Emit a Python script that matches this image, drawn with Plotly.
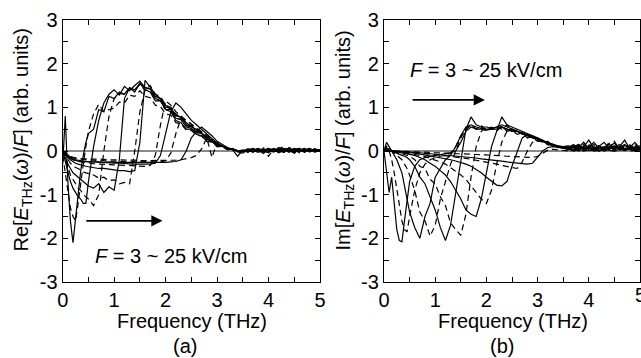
import plotly.graph_objects as go

FONT = "Liberation Sans, Arial, sans-serif"

FREQ = [0.0, 0.05, 0.1, 0.15, 0.2, 0.25, 0.3, 0.35, 0.4, 0.45, 0.5,
        0.6, 0.7, 0.8, 0.9, 1.0, 1.1, 1.2, 1.3, 1.4, 1.5, 1.6, 1.7, 1.8, 1.9, 2.0,
        2.1, 2.2, 2.3, 2.4, 2.5, 2.6, 2.7, 2.8, 2.9, 3.0, 3.1, 3.2, 3.3, 3.4, 3.5,
        3.6, 3.7, 3.8, 3.9, 4.0, 4.1, 4.2, 4.3, 4.4, 4.5, 4.6, 4.7, 4.8, 4.9, 5.0]

FIELDS = [3, 5, 7, 9, 11, 13, 15, 17, 19, 21, 23, 25]

X_TICKS = [0, 1, 2, 3, 4, 5]
X_TICK_TEXT = ["0", "1", "2", "3", "4", "5"]
Y_TICKS = [-3, -2, -1, 0, 1, 2, 3]
Y_TICK_TEXT = ["-3", "-2", "-1", "0", "1", "2", "3"]

# Re[E_THz(w)/F]
re_03 = [-0.3, 0.8, -0.7, -1.6, -2.1, -1.5, -0.9, -0.45, -0.1, 0.2, 0.4,
         0.5, 0.95, 0.9, 1.25, 1.2, 1.35, 1.3, 1.45, 1.35, 1.55, 1.4, 1.35, 1.15, 1.15, 0.95, 0.9, 0.7, 0.65, 0.5, 0.5, 0.38, 0.35, 0.22, 0.22, 0.1, 0.12, 0.03, 0.06, -0.02, -0.05,
         0.03, -0.02, 0.05, 0.0, -0.04, 0.06, 0.02, -0.03, 0.08, 0.0, 0.04, -0.02, 0.03, 0.0, 0.02]
re_05 = [-0.1, -0.5, -1.0, -1.3, -1.5, -1.6, -1.2, -0.7, -0.3, 0.1, 0.45,
         0.85, 1.07, 0.9, 0.95, 0.98, 1.12, 1.1, 1.28, 1.25, 1.38, 1.25, 1.22, 1.05, 1.02, 0.85, 0.82, 0.65, 0.62, 0.48, 0.47, 0.37, 0.34, 0.22, 0.2, 0.1, 0.1, 0.03, 0.04, 0.0, 0.02,
         -0.02, 0.04, -0.05, 0.07, 0.01, -0.02, 0.05, 0.1, 0.0, 0.03, -0.04, 0.05, 0.0, 0.04, -0.02]
re_07 = [0.0, -0.25, -0.5, -0.7, -0.85, -0.95, -1.05, -1.1, -1.2, -1.2, -0.7,
         0.1, 0.7, 1.1, 1.3, 1.4, 1.28, 1.48, 1.38, 1.5, 1.6, 1.45, 1.42, 1.2, 1.15, 0.95, 0.95, 0.75, 0.72, 0.55, 0.52, 0.42, 0.4, 0.27, 0.22, 0.12, 0.12, 0.04, 0.05, 0.0, 0.0,
         0.05, 0.0, 0.02, -0.06, 0.04, 0.0, 0.08, 0.02, -0.03, 0.06, 0.01, 0.0, 0.05, -0.03, 0.03]
re_09 = [0.0, -0.2, -0.4, -0.55, -0.65, -0.75, -0.85, -0.9, -1.0, -1.05, -1.1,
         -1.25, -1.0, 0.0, 0.8, 1.2, 1.32, 1.3, 1.42, 1.4, 1.52, 1.4, 1.38, 1.2, 1.15, 0.95, 0.92, 0.75, 0.72, 0.58, 0.55, 0.42, 0.4, 0.27, 0.24, 0.13, 0.12, 0.05, 0.05, 0.0, 0.02,
         0.0, 0.05, -0.03, 0.02, 0.06, -0.02, 0.03, 0.0, 0.05, -0.05, 0.02, 0.06, -0.01, 0.02, 0.0]
re_11 = [0.0, -0.15, -0.3, -0.4, -0.5, -0.55, -0.6, -0.65, -0.7, -0.75, -0.8,
         -0.85, -0.75, -0.95, -0.82, -0.9, -0.2, 1.2, 1.45, 1.4, 1.55, 1.45, 1.42, 1.25, 1.2, 1.0, 0.98, 0.8, 0.78, 0.6, 0.58, 0.45, 0.42, 0.28, 0.25, 0.14, 0.12, 0.05, 0.05, 0.0, -0.02,
         0.04, 0.0, 0.06, -0.02, 0.03, 0.05, -0.04, 0.02, 0.07, 0.0, 0.03, -0.03, 0.04, 0.01, 0.03]
re_13 = [0.0, -0.1, -0.2, -0.28, -0.33, -0.38, -0.4, -0.45, -0.48, -0.5, -0.52,
         -0.55, -0.62, -0.6, -0.68, -0.66, -0.75, -0.72, -0.75, 0.0, 0.9, 1.4, 1.5, 1.3, 1.25, 1.05, 1.0, 0.82, 0.8, 0.62, 0.58, 0.45, 0.43, 0.28, 0.25, 0.13, 0.12, 0.04, 0.05, 0.0, 0.02,
         0.02, -0.03, 0.04, 0.02, -0.01, 0.05, 0.0, 0.04, -0.02, 0.03, 0.06, 0.0, 0.02, 0.05, -0.01]
re_15 = [0.0, -0.08, -0.15, -0.2, -0.25, -0.28, -0.3, -0.32, -0.33, -0.35, -0.36,
         -0.38, -0.4, -0.4, -0.42, -0.43, -0.45, -0.45, -0.47, -0.45, 0.2, 1.62, 1.45, 1.3, 1.2, 1.05, 0.95, 0.85, 0.75, 0.65, 0.55, 0.5, 0.4, 0.32, 0.25, 0.16, 0.1, 0.06, 0.03, 0.0, 0.0,
         0.03, 0.06, 0.0, -0.02, 0.05, 0.02, -0.03, 0.04, 0.0, 0.05, -0.02, 0.03, 0.06, 0.0, 0.02]
re_17 = [0.0, -0.07, -0.12, -0.16, -0.2, -0.22, -0.24, -0.25, -0.26, -0.27, -0.28,
         -0.29, -0.3, -0.3, -0.31, -0.32, -0.32, -0.33, -0.33, -0.34, -0.35, -0.35, -0.33, -0.1, 0.6, 1.15, 1.05, 0.9, 0.8, 0.7, 0.6, 0.5, 0.42, 0.33, 0.25, 0.17, 0.12, 0.07, 0.03, 0.01, 0.0,
         0.0, 0.03, -0.02, 0.05, 0.0, 0.04, 0.02, -0.03, 0.05, 0.01, 0.0, 0.04, -0.02, 0.03, 0.0]
re_19 = [0.0, -0.05, -0.1, -0.14, -0.18, -0.2, -0.21, -0.22, -0.23, -0.24, -0.25,
         -0.25, -0.26, -0.27, -0.27, -0.28, -0.28, -0.29, -0.29, -0.3, -0.3, -0.3, -0.3, -0.28, -0.1, 0.4, 0.9, 1.1, 1.0, 0.85, 0.7, 0.6, 0.5, 0.38, 0.28, 0.18, 0.12, 0.07, 0.03, -0.12, 0.02,
         -0.03, 0.04, 0.02, 0.0, 0.06, -0.02, 0.03, 0.05, 0.0, -0.04, 0.04, 0.02, 0.0, 0.05, 0.01]
re_21 = [0.0, -0.05, -0.09, -0.12, -0.15, -0.17, -0.18, -0.19, -0.2, -0.2, -0.21,
         -0.21, -0.22, -0.22, -0.23, -0.23, -0.24, -0.24, -0.25, -0.25, -0.25, -0.26, -0.26, -0.25, -0.25, -0.22, -0.05, 0.4, 0.75, 0.7, 0.62, 0.52, 0.45, 0.36, 0.27, 0.18, 0.12, 0.07, 0.03, 0.01, 0.0,
         0.02, 0.0, 0.05, 0.03, -0.12, 0.04, 0.0, 0.06, 0.02, -0.01, 0.03, 0.05, 0.0, 0.02, 0.04]
re_23 = [0.0, -0.06, -0.12, -0.17, -0.2, -0.22, -0.23, -0.24, -0.24, -0.25, -0.25,
         -0.25, -0.25, -0.26, -0.25, -0.26, -0.26, -0.27, -0.26, -0.27, -0.27, -0.27, -0.27, -0.27, -0.26, -0.26, -0.25, -0.24, -0.2, 0.0, 0.3, 0.45, 0.55, 0.45, 0.35, 0.22, 0.15, 0.08, 0.04, 0.01, 0.0,
         0.04, -0.02, 0.03, 0.0, 0.05, 0.02, -0.03, 0.04, 0.0, 0.03, 0.06, -0.02, 0.02, 0.0, 0.03]
re_25 = [0.0, -0.05, -0.1, -0.13, -0.15, -0.16, -0.17, -0.17, -0.18, -0.18, -0.18,
         -0.18, -0.19, -0.19, -0.2, -0.2, -0.2, -0.21, -0.21, -0.21, -0.22, -0.22, -0.22, -0.22, -0.22, -0.22, -0.21, -0.21, -0.2, -0.18, -0.15, -0.1, 0.05, 0.3, -0.15, 0.2, 0.12, 0.07, 0.03, 0.0, 0.0,
         0.0, 0.03, 0.05, -0.02, 0.02, 0.0, 0.04, -0.03, 0.02, 0.05, 0.0, 0.02, -0.02, 0.03, 0.01]

# Im[E_THz(w)/F]
im_03 = [0.0, -0.5, -0.95, -0.6, -1.2, -1.8, -2.05, -2.08, -1.6, -1.1, -0.7,
         -0.35, -0.2, -0.15, -0.12, -0.1, -0.08, -0.06, -0.04, 0.0, 0.2, 0.45, 0.55, 0.5, 0.5, 0.48, 0.5, 0.5, 0.55, 0.5, 0.45, 0.45, 0.4, 0.35, 0.3, 0.28, 0.22, 0.2, 0.15, 0.12, 0.1,
         0.12, 0.08, 0.15, 0.05, 0.1, 0.2, 0.06, 0.1, 0.04, 0.12, 0.08, 0.15, 0.05, 0.1, 0.08]
im_05 = [0.0, 0.1, 0.0, -0.2, -0.5, -0.9, -1.3, -1.6, -1.8, -1.85, -1.5,
         -0.9, -0.5, -0.3, -0.2, -0.15, -0.12, -0.1, -0.05, 0.1, 0.35, 0.5, 0.6, 0.5, 0.55, 0.45, 0.52, 0.48, 0.55, 0.45, 0.48, 0.38, 0.42, 0.3, 0.33, 0.22, 0.25, 0.15, 0.16, 0.08, 0.1,
         0.05, 0.1, 0.02, 0.15, 0.06, 0.0, 0.12, 0.04, 0.18, 0.05, 0.1, 0.02, 0.14, 0.06, 0.03]
im_07 = [0.0, 0.2, 0.1, 0.0, -0.1, -0.2, -0.35, -0.5, -0.8, -1.1, -1.4,
         -1.75, -2.0, -1.5, -1.2, -0.6, -0.4, -0.2, -0.1, 0.1, 0.35, 0.55, 0.6, 0.55, 0.52, 0.5, 0.5, 0.55, 0.55, 0.5, 0.48, 0.45, 0.4, 0.35, 0.32, 0.27, 0.22, 0.18, 0.15, 0.1, 0.08,
         0.1, 0.03, 0.08, 0.2, 0.05, 0.1, 0.0, 0.08, 0.15, 0.03, 0.1, 0.25, 0.05, 0.08, 0.12]
im_09 = [0.0, 0.1, 0.05, 0.0, -0.05, -0.1, -0.15, -0.2, -0.3, -0.4, -0.55,
         -0.9, -1.4, -1.6, -1.95, -1.7, -1.1, -0.7, -0.3, 0.0, 0.3, 0.5, 0.6, 0.5, 0.58, 0.48, 0.55, 0.45, 0.58, 0.45, 0.5, 0.38, 0.42, 0.3, 0.32, 0.22, 0.24, 0.14, 0.16, 0.08, 0.1,
         0.06, 0.12, 0.03, 0.08, 0.15, 0.02, 0.1, 0.06, 0.2, 0.04, 0.08, 0.1, 0.03, 0.15, 0.05]
im_11 = [0.0, 0.05, 0.05, 0.0, -0.03, -0.05, -0.08, -0.1, -0.12, -0.15, -0.2,
         -0.35, -0.6, -0.75, -1.05, -1.35, -1.75, -2.05, -1.7, -1.0, -0.2, 0.5, 0.78, 0.6, 0.55, 0.55, 0.52, 0.55, 0.6, 0.55, 0.5, 0.45, 0.4, 0.36, 0.32, 0.27, 0.22, 0.18, 0.14, 0.1, 0.1,
         0.08, 0.15, 0.05, 0.1, 0.25, 0.06, 0.12, 0.03, 0.1, 0.18, 0.05, 0.12, 0.08, 0.2, 0.06]
im_13 = [0.0, 0.05, 0.03, 0.0, -0.02, -0.03, -0.05, -0.06, -0.08, -0.1, -0.12,
         -0.2, -0.35, -0.4, -0.65, -0.75, -1.05, -1.25, -1.65, -1.8, -1.93, -1.45, -0.6, 0.1, 0.45, 0.55, 0.5, 0.58, 0.5, 0.6, 0.45, 0.48, 0.38, 0.4, 0.3, 0.3, 0.2, 0.22, 0.12, 0.12, 0.08,
         0.1, 0.05, 0.12, 0.02, 0.08, 0.15, 0.04, 0.1, 0.06, 0.22, 0.03, 0.1, 0.05, 0.12, 0.04]
im_15 = [0.0, 0.03, 0.02, 0.0, -0.01, -0.02, -0.03, -0.04, -0.05, -0.06, -0.07,
         -0.1, -0.15, -0.2, -0.28, -0.35, -0.45, -0.55, -0.7, -0.9, -1.1, -1.35, -1.45, -1.5, -1.1, -0.5, 0.1, 0.45, 0.78, 0.6, 0.55, 0.5, 0.45, 0.4, 0.35, 0.28, 0.22, 0.18, 0.13, 0.1, 0.08,
         0.04, 0.1, 0.15, 0.05, 0.08, 0.02, 0.12, 0.2, 0.05, 0.08, 0.15, 0.04, 0.1, 0.03, 0.08]
im_17 = [0.0, 0.02, 0.0, -0.01, -0.02, -0.02, -0.03, -0.03, -0.04, -0.05, -0.05,
         -0.08, -0.1, -0.13, -0.17, -0.2, -0.25, -0.3, -0.38, -0.45, -0.55, -0.65, -0.8, -0.95, -1.1, -1.2, -0.9, -0.3, 0.2, 0.45, 0.5, 0.45, 0.42, 0.38, 0.33, 0.27, 0.22, 0.17, 0.13, 0.1, 0.08,
         0.06, 0.02, 0.1, 0.05, 0.12, 0.03, 0.08, 0.05, 0.15, 0.02, 0.06, 0.1, 0.04, 0.07, 0.02]
im_19 = [0.0, 0.02, 0.01, 0.0, -0.01, -0.01, -0.02, -0.02, -0.03, -0.03, -0.04,
         -0.05, -0.07, -0.09, -0.11, -0.13, -0.15, -0.18, -0.2, -0.23, -0.26, -0.3, -0.35, -0.42, -0.5, -0.6, -0.7, -0.78, -0.8, -0.7, -0.35, 0.0, 0.3, 0.38, 0.35, 0.3, 0.24, 0.18, 0.13, 0.1, 0.08,
         0.05, 0.08, 0.02, 0.1, 0.04, 0.06, 0.12, 0.03, 0.05, 0.1, 0.02, 0.06, 0.08, 0.03, 0.05]
im_21 = [0.0, 0.01, 0.0, 0.0, -0.01, -0.01, -0.01, -0.02, -0.02, -0.02, -0.03,
         -0.04, -0.05, -0.06, -0.07, -0.08, -0.1, -0.11, -0.12, -0.14, -0.15, -0.17, -0.19, -0.21, -0.23, -0.25, -0.28, -0.3, -0.33, -0.36, -0.38, -0.4, -0.25, 0.0, 0.2, 0.25, 0.2, 0.15, 0.12, 0.09, 0.06,
         0.03, 0.06, 0.0, 0.04, 0.08, 0.02, 0.05, 0.0, 0.06, 0.03, 0.08, 0.01, 0.04, 0.06, 0.02]
im_23 = [0.0, 0.01, 0.0, 0.0, -0.01, -0.01, -0.01, -0.01, -0.02, -0.02, -0.02,
         -0.03, -0.04, -0.05, -0.06, -0.07, -0.08, -0.09, -0.1, -0.11, -0.12, -0.13, -0.15, -0.16, -0.18, -0.19, -0.2, -0.22, -0.23, -0.25, -0.26, -0.28, -0.29, -0.3, -0.28, -0.15, 0.0, 0.08, 0.1, 0.08, 0.06,
         0.04, 0.0, 0.03, 0.06, 0.01, 0.04, 0.0, 0.05, 0.02, 0.0, 0.04, 0.02, 0.05, 0.0, 0.03]
im_25 = [0.0, 0.0, 0.0, 0.0, 0.0, -0.01, -0.01, -0.01, -0.01, -0.01, -0.02,
         -0.02, -0.02, -0.03, -0.03, -0.04, -0.04, -0.05, -0.05, -0.06, -0.06, -0.07, -0.07, -0.08, -0.08, -0.09, -0.1, -0.1, -0.11, -0.12, -0.12, -0.13, -0.14, -0.15, -0.15, -0.12, -0.05, 0.02, 0.04, 0.03, 0.02,
         0.0, 0.02, 0.04, 0.0, 0.03, 0.01, 0.0, 0.03, 0.02, 0.0, 0.02, 0.04, 0.0, 0.01, 0.02]

RE_SERIES = [re_03, re_05, re_07, re_09, re_11, re_13, re_15, re_17, re_19, re_21, re_23, re_25]
IM_SERIES = [im_03, im_05, im_07, im_09, im_11, im_13, im_15, im_17, im_19, im_21, im_23, im_25]

for s in RE_SERIES + IM_SERIES:
    assert len(s) == len(FREQ), len(s)

fig = go.Figure()
for i, F in enumerate(FIELDS):
    dash = "solid" if i % 2 == 0 else "6px,4px"
    fig.add_trace(go.Scatter(x=FREQ, y=RE_SERIES[i], mode="lines", name=f"{F} kV/cm",
                             line=dict(color="black", width=1.2, dash=dash),
                             xaxis="x", yaxis="y", showlegend=False))
    fig.add_trace(go.Scatter(x=FREQ, y=IM_SERIES[i], mode="lines", name=f"{F} kV/cm",
                             line=dict(color="black", width=1.2, dash=dash),
                             xaxis="x2", yaxis="y2", showlegend=False))

W, H = 641, 358
def px(x):
    return x / W
def py(y):
    return 1 - y / H

xcommon = dict(range=[0, 5], tickmode="array", tickvals=X_TICKS, ticktext=X_TICK_TEXT,
               ticks="inside", ticklen=5, tickwidth=1, automargin=False,
               tickcolor="black", showline=True, linecolor="black", linewidth=1.2,
               mirror="ticks", showgrid=False, zeroline=False,
               tickfont=dict(size=20, family=FONT, color="black"),
               minor=dict(ticks="inside", dtick=0.5, tick0=0, ticklen=5, tickcolor="black", tickwidth=1))
ycommon = dict(range=[-3, 3], tickmode="array", tickvals=Y_TICKS, ticktext=Y_TICK_TEXT,
               ticks="inside", ticklen=5, tickwidth=1, automargin=False,
               tickcolor="black", showline=True, linecolor="black", linewidth=1.2,
               mirror="ticks", showgrid=False, zeroline=True, zerolinecolor="#8a8a8a",
               zerolinewidth=1.6,
               tickfont=dict(size=20, family=FONT, color="black"),
               minor=dict(ticks="inside", dtick=0.5, tick0=0, ticklen=5, tickcolor="black", tickwidth=1))

fig.update_layout(
    width=W, height=H,
    margin=dict(l=0, r=0, t=0, b=0, autoexpand=False),
    paper_bgcolor="white", plot_bgcolor="white",
    font=dict(family=FONT, size=20, color="black"),
    xaxis=dict(domain=[px(62.7), px(320)], anchor="y", **xcommon),
    yaxis=dict(domain=[py(282), py(20)], anchor="x", **ycommon),
    xaxis2=dict(domain=[px(384), px(640)], anchor="y2", **xcommon),
    yaxis2=dict(domain=[py(282), py(20)], anchor="x2", **ycommon),
)

ann = []
ytitle_re = "Re[<i>E</i><sub>THz</sub>(<i>ω</i>)/<i>F</i>] (arb. units)"
ytitle_im = "Im[<i>E</i><sub>THz</sub>(<i>ω</i>)/<i>F</i>] (arb. units)"
ann.append(dict(text=ytitle_re, x=px(22), y=py(139.5), xref="paper", yref="paper",
                textangle=-90, showarrow=False, xanchor="center", yanchor="middle",
                font=dict(size=20, family=FONT)))
ann.append(dict(text=ytitle_im, x=px(344), y=py(140.5), xref="paper", yref="paper",
                textangle=-90, showarrow=False, xanchor="center", yanchor="middle",
                font=dict(size=20, family=FONT)))
ann.append(dict(text="Frequency (THz)", x=px(192), y=py(321), xref="paper", yref="paper",
                showarrow=False, xanchor="center", yanchor="middle", font=dict(size=20, family=FONT)))
ann.append(dict(text="Frequency (THz)", x=px(513), y=py(321), xref="paper", yref="paper",
                showarrow=False, xanchor="center", yanchor="middle", font=dict(size=20, family=FONT)))
ann.append(dict(text="(a)", x=px(184.5), y=py(346), xref="paper", yref="paper",
                showarrow=False, xanchor="center", yanchor="middle", font=dict(size=20, family=FONT)))
ann.append(dict(text="(b)", x=px(502), y=py(346), xref="paper", yref="paper",
                showarrow=False, xanchor="center", yanchor="middle", font=dict(size=20, family=FONT)))
# last x tick label of panel (b), partly cut by the figure edge as in the reference
ann.append(dict(text=X_TICK_TEXT[-1], x=X_TICKS[-1], y=py(295), xref="x2", yref="paper",
                showarrow=False, xanchor="center", yanchor="middle", font=dict(size=20, family=FONT)))
label = "<i>F</i> = 3 ~ 25 kV/cm"
ann.append(dict(text=label, x=0.59, y=-2.4, xref="x", yref="y", showarrow=False,
                xanchor="left", yanchor="middle", font=dict(size=20, family=FONT)))
ann.append(dict(text=label, x=0.47, y=1.85, xref="x2", yref="y2", showarrow=False,
                xanchor="left", yanchor="middle", font=dict(size=20, family=FONT)))
ann.append(dict(text="", x=1.94, y=-1.6, ax=0.43, ay=-1.6, xref="x", yref="y",
                axref="x", ayref="y", showarrow=True, arrowhead=2, arrowsize=1.4,
                arrowwidth=1.6, arrowcolor="black"))
ann.append(dict(text="", x=1.97, y=1.17, ax=0.53, ay=1.17, xref="x2", yref="y2",
                axref="x2", ayref="y2", showarrow=True, arrowhead=2, arrowsize=1.4,
                arrowwidth=1.6, arrowcolor="black"))
fig.update_layout(annotations=ann)

fig.write_html("out.html", config={"displayModeBar": False},
               post_script="document.body.style.margin='0px';document.body.style.overflow='hidden';")
